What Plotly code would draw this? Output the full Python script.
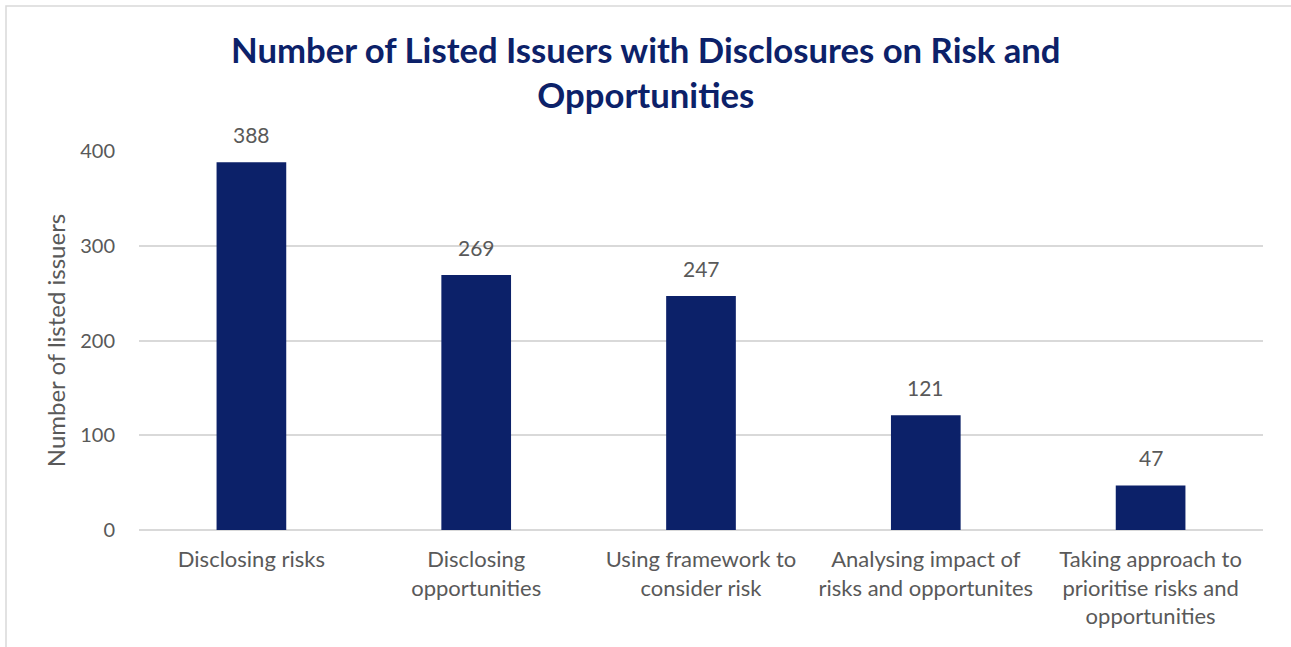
import plotly.graph_objects as go

# Chart data
categories = [
    "Disclosing risks",
    "Disclosing<br>opportunities",
    "Using framework to<br>consider risk",
    "Analysing impact of<br>risks and opportunites",
    "Taking approach to<br>prioritise risks and<br>opportunities",
]
issuer_counts = [388, 269, 247, 121, 47]
y_ticks = [0, 100, 200, 300, 400]

NAVY = "#0C2169"
GREY_TEXT = "#595959"
GRID = "#D9D9D9"
FONT = "Lato, 'Open Sans', sans-serif"

W, H = 1291, 647
M_L, M_R, M_T, M_B = 139, 28, 151, 117
plot_w = W - M_L - M_R
plot_h = H - M_T - M_B


def px_to_paper_x(px):
    return (px - M_L) / plot_w


def px_to_paper_y(py):
    return (H - M_B - py) / plot_h


fig = go.Figure(
    go.Bar(
        x=categories,
        y=issuer_counts,
        width=0.31,
        marker=dict(color=NAVY, line=dict(width=0)),
        cliponaxis=False,
    )
)

# Value labels above each bar
for cat, val in zip(categories, issuer_counts):
    fig.add_annotation(
        x=cat, y=val, xref="x", yref="y",
        text=str(val), showarrow=False,
        yanchor="bottom", yshift=13,
        font=dict(family=FONT, size=21, color=GREY_TEXT),
    )

# Two-line chart title, centred on the page
fig.add_annotation(
    xref="paper", yref="paper",
    x=px_to_paper_x(W / 2), y=px_to_paper_y(72),
    xanchor="center", yanchor="middle",
    text="<b>Number of Listed Issuers with Disclosures on Risk and<br>Opportunities</b>",
    showarrow=False,
    font=dict(family=FONT, size=34.7, color=NAVY),
)

# Outer chart frame (extends past right and bottom edges of the page)
fig.add_shape(
    type="rect", xref="paper", yref="paper",
    x0=px_to_paper_x(6), x1=px_to_paper_x(W + 10),
    y0=px_to_paper_y(H + 10), y1=px_to_paper_y(6),
    line=dict(color=GRID, width=1.5), fillcolor="rgba(0,0,0,0)", layer="below",
)

fig.update_layout(
    width=W, height=H,
    margin=dict(l=M_L, r=M_R, t=M_T, b=M_B),
    paper_bgcolor="white", plot_bgcolor="white",
    showlegend=False,
    bargap=0.69,
    xaxis=dict(
        showgrid=False, showline=False, zeroline=False,
        ticks="", ticklabelstandoff=14,
        tickfont=dict(family=FONT, size=22, color=GREY_TEXT),
    ),
    yaxis=dict(
        range=[0, 400], tickvals=y_ticks,
        showgrid=True, gridcolor=GRID, gridwidth=1.5,
        zeroline=True, zerolinecolor=GRID, zerolinewidth=1.5,
        showline=False, ticks="", ticklabelstandoff=23,
        tickfont=dict(family=FONT, size=20, color=GREY_TEXT),
        title=dict(text="Number of listed issuers", standoff=7,
                   font=dict(family=FONT, size=24, color=GREY_TEXT)),
    ),
)

fig.write_html("out.html")
